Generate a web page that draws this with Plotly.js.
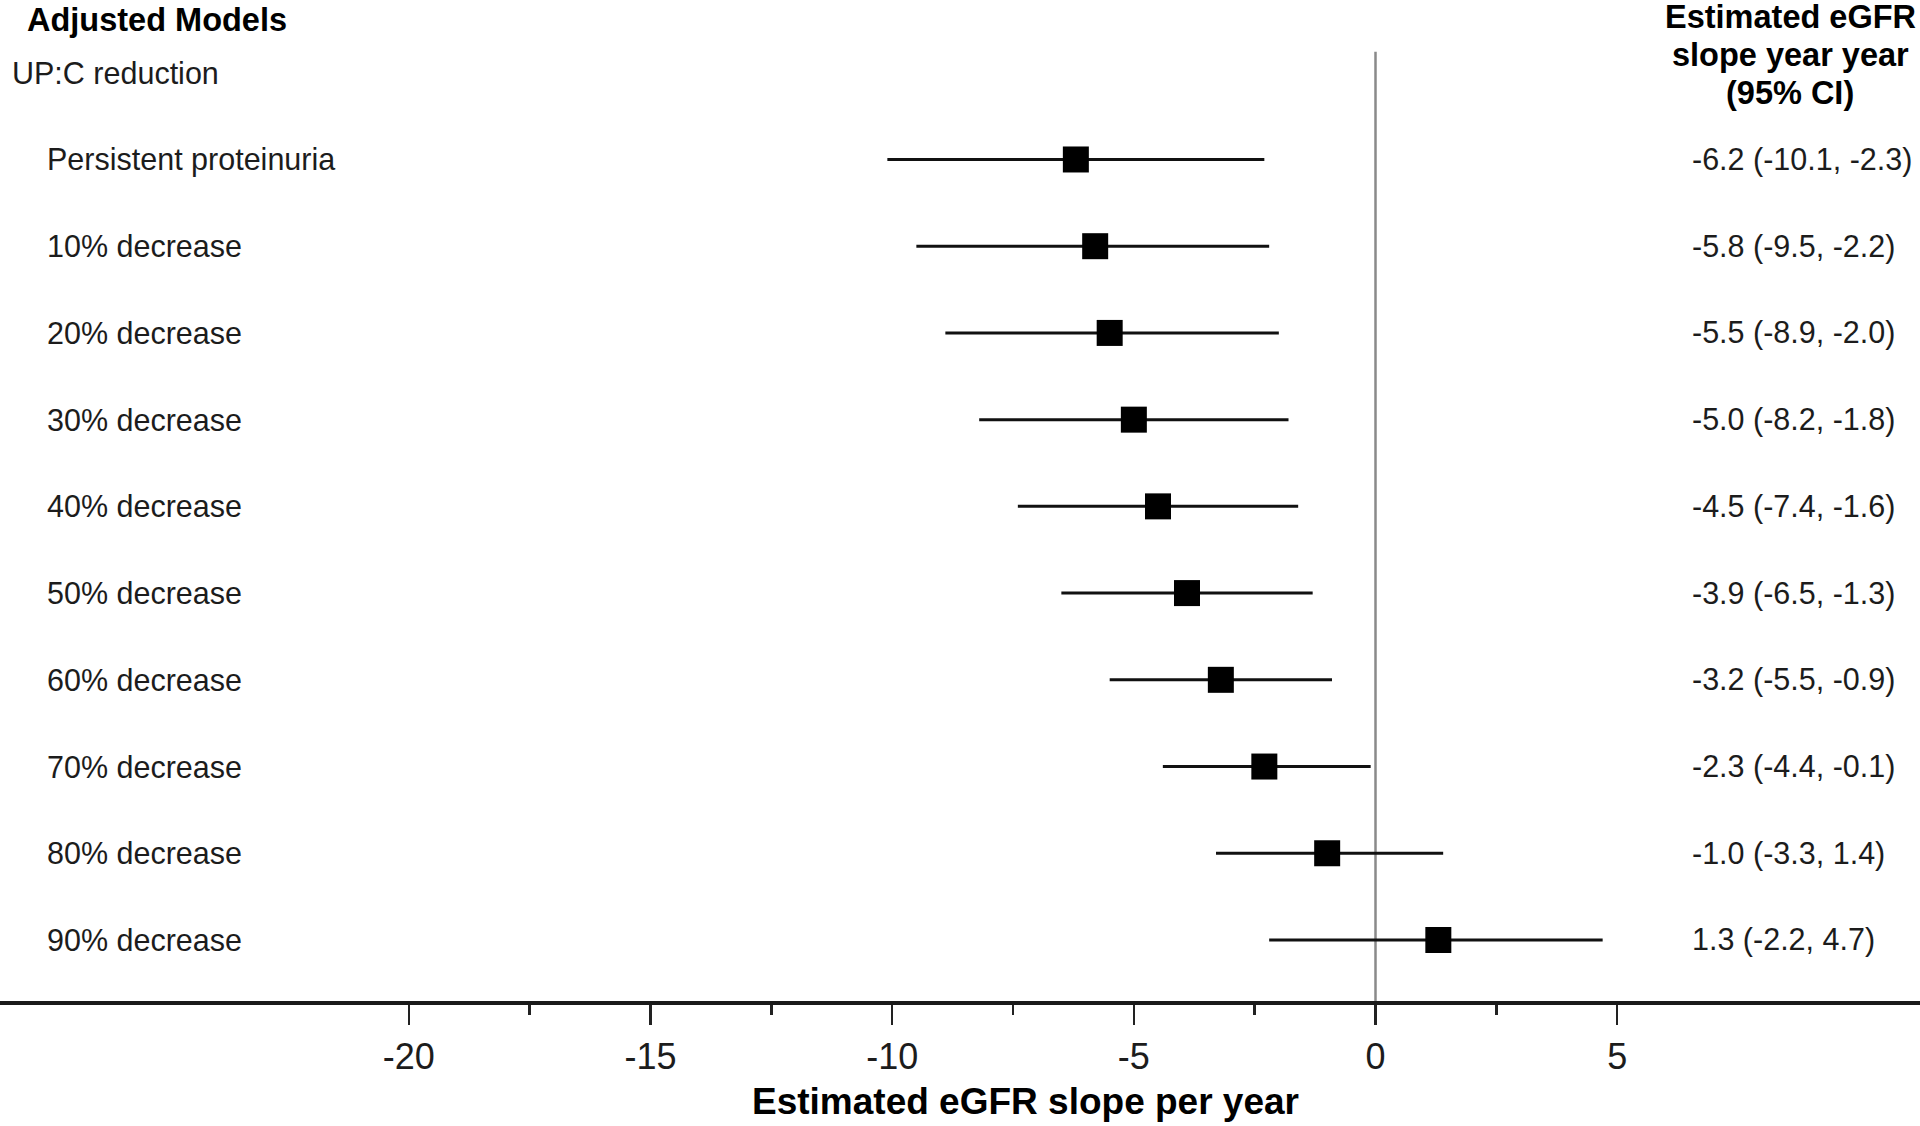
<!DOCTYPE html>
<html>
<head>
<meta charset="utf-8">
<script src="https://cdn.plot.ly/plotly-3.0.1.min.js"></script>
<style>
html,body{margin:0;padding:0;background:#fff;}
#chart{width:1920px;height:1126px;}
</style>
</head>
<body>
<div id="chart"></div>
<script>
// ---- data ----
var categories = ["Persistent proteinuria","10% decrease","20% decrease","30% decrease","40% decrease",
                  "50% decrease","60% decrease","70% decrease","80% decrease","90% decrease"];
var estimate = [-6.2,-5.8,-5.5,-5.0,-4.5,-3.9,-3.2,-2.3,-1.0,1.3];
var ciLow    = [-10.1,-9.5,-8.9,-8.2,-7.4,-6.5,-5.5,-4.4,-3.3,-2.2];
var ciHigh   = [-2.3,-2.2,-2.0,-1.8,-1.6,-1.3,-0.9,-0.1,1.4,4.7];
var majorTicks = [-20,-15,-10,-5,0,5];
var minorTicks = [-17.5,-12.5,-7.5,-2.5,2.5];
var groupLabel = "UP:C reduction";
var panelTitle = "Adjusted Models";
var columnHeader = ["Estimated eGFR","slope year year","(95% CI)"];
var xTitle = "Estimated eGFR slope per year";

// ---- derived ----
var n = categories.length;
var rowY = categories.map(function(c,i){return n - i;});
var errPlus = estimate.map(function(v,i){return +(ciHigh[i]-v).toFixed(3);});
var errMinus = estimate.map(function(v,i){return +(v-ciLow[i]).toFixed(3);});
var valueText = estimate.map(function(v,i){
  return v.toFixed(1)+" ("+ciLow[i].toFixed(1)+", "+ciHigh[i].toFixed(1)+")";
});

var FONT = "Liberation Sans, Arial, Helvetica, sans-serif";
var TXT = "#1c1c1c";

var trace = {
  type:"scatter", mode:"markers",
  x: estimate, y: rowY,
  marker:{symbol:"square", size:26, color:"#000", line:{width:0}},
  error_x:{type:"data", symmetric:false, array:errPlus, arrayminus:errMinus,
           thickness:3, width:0, color:"#111"},
  hoverinfo:"skip", showlegend:false, cliponaxis:false
};

var annotations = [];
categories.forEach(function(c,i){
  annotations.push({xref:"paper", yref:"y", x:45/1920, y:rowY[i], xanchor:"left", yanchor:"middle",
    text:c, showarrow:false, font:{family:FONT, size:30.5, color:TXT}});
  annotations.push({xref:"paper", yref:"y", x:1690/1920, y:rowY[i], xanchor:"left", yanchor:"middle",
    text:valueText[i], showarrow:false, font:{family:FONT, size:30.5, color:TXT}});
});
annotations.push({xref:"paper", yref:"y", x:10/1920, y:n+1, xanchor:"left", yanchor:"middle",
  text:groupLabel, showarrow:false, font:{family:FONT, size:30.5, color:TXT}});
annotations.push({xref:"paper", yref:"paper", x:25/1920, y:1, xanchor:"left", yanchor:"top",
  text:"<b>"+panelTitle+"</b>", showarrow:false, font:{family:FONT, size:32.5, color:"#000"}});
var headerY = [17,55,93];
columnHeader.forEach(function(h,k){
  annotations.push({xref:"paper", yref:"paper", x:1790/1920, y:(1001-headerY[k])/1001,
    xanchor:"center", yanchor:"middle", text:"<b>"+h+"</b>", showarrow:false,
    font:{family:FONT, size:32.5, color:"#000"}});
});
annotations.push({xref:"paper", yref:"paper", x:1025/1920, y:(1001-1101)/1001,
  xanchor:"center", yanchor:"middle", text:"<b>"+xTitle+"</b>", showarrow:false,
  font:{family:FONT, size:37, color:"#000"}});

var layout = {
  width:1920, height:1126,
  margin:{l:0, r:0, t:0, b:125, pad:0},
  paper_bgcolor:"#fff", plot_bgcolor:"#fff",
  font:{family:FONT, color:TXT},
  xaxis:{
    range:[-28.46, 11.266], showgrid:false, zeroline:false,
    showline:true, linewidth:4, linecolor:"#1a1a1a",
    tickmode:"array", tickvals:majorTicks, ticktext:majorTicks.map(String),
    ticks:"outside", ticklen:20, tickwidth:2.5, tickcolor:"#222",
    tickfont:{family:FONT, size:36, color:TXT},
    ticklabelstandoff:1,
    minor:{tickmode:"array", tickvals:minorTicks, ticks:"outside", ticklen:10, tickwidth:2.5, tickcolor:"#222", showgrid:false},
    fixedrange:true
  },
  yaxis:{
    range:[0.2964, 11.839], visible:false, showgrid:false, zeroline:false, fixedrange:true
  },
  shapes:[{type:"line", xref:"x", yref:"y", x0:0, x1:0, y0:0.2964, y1:11.243,
           line:{color:"#8a8a8a", width:2.5}, layer:"below"}],
  annotations:annotations
};

Plotly.newPlot("chart",[trace],layout,{staticPlot:true, displayModeBar:false});
</script>
</body>
</html>
